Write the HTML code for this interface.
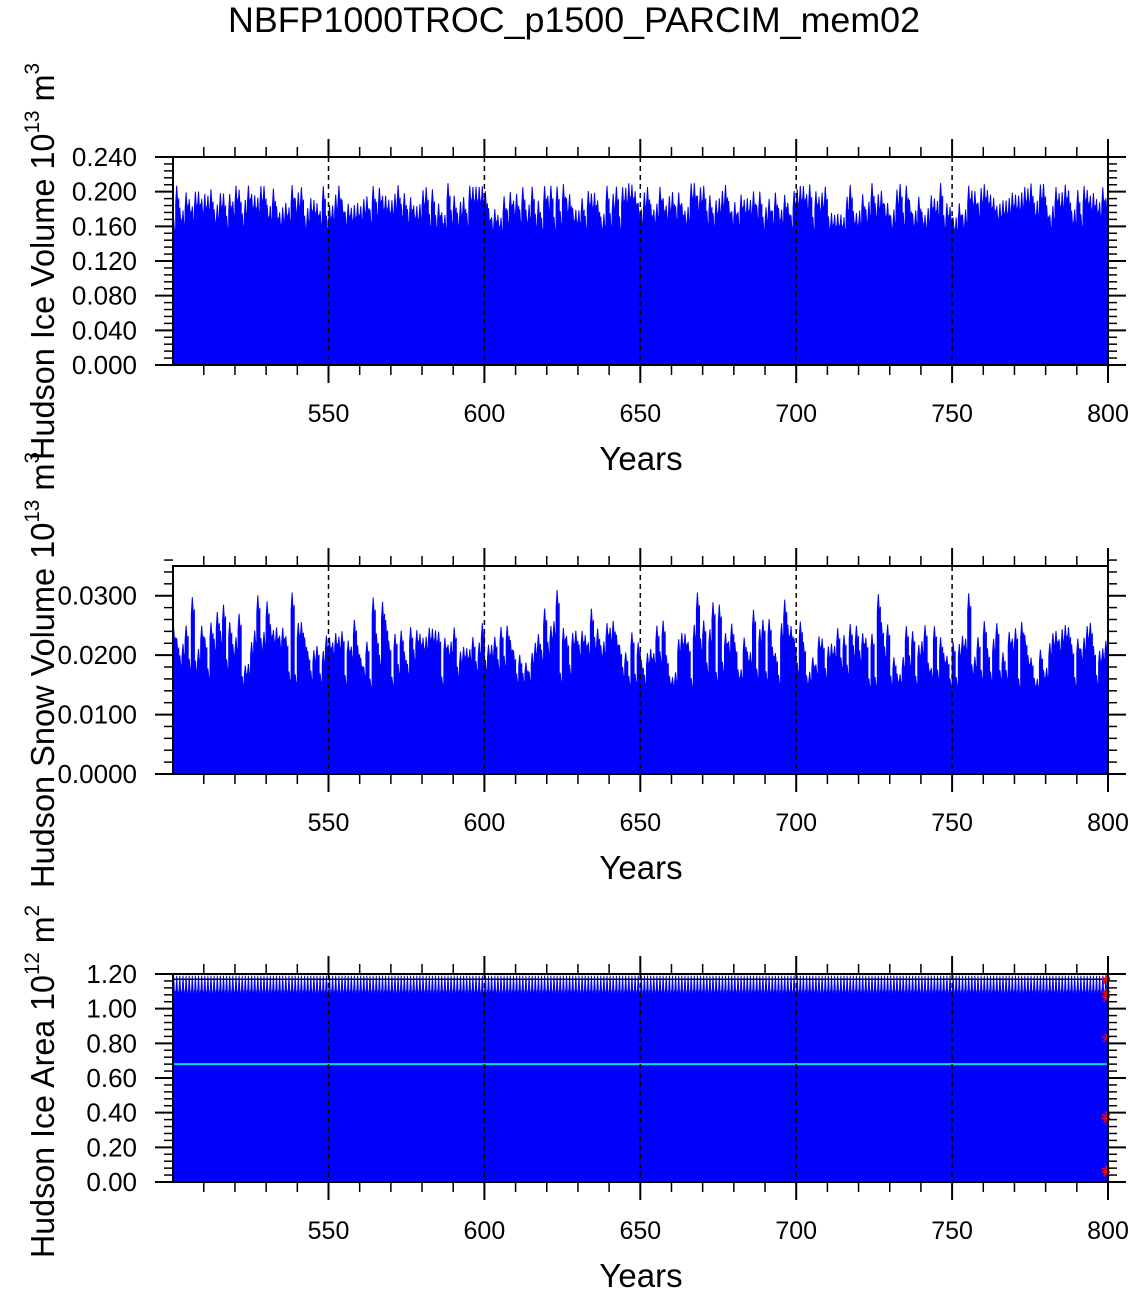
<!DOCTYPE html>
<html><head><meta charset="utf-8"><style>
html,body{margin:0;padding:0;background:#fff;}
svg{display:block;font-family:"Liberation Sans",Arial,sans-serif;}
</style></head><body>
<svg id="s" width="1135" height="1293" viewBox="0 0 1135 1293" xmlns="http://www.w3.org/2000/svg">
<rect width="1135" height="1293" fill="#fff"/>
<text x="228" y="32" font-size="35" textLength="692" lengthAdjust="spacingAndGlyphs">NBFP1000TROC_p1500_PARCIM_mem02</text>
<g id="g"></g>
</svg>
<script>
var NS="http://www.w3.org/2000/svg",g=document.getElementById('g');
function el(t,a,txt){var e=document.createElementNS(NS,t);for(var k in a)e.setAttribute(k,a[k]);if(txt!==undefined)e.textContent=txt;g.appendChild(e);return e;}
var seed=7;function rnd(){seed=(seed*16807)%2147483647;return seed/2147483647;}
var X0=173,X1=1108;function xp(yr){return 172.6+(yr-500)*3.118;}
function panel(top,bot,ymax,majStep,minStep,dec,labelFn,title,t0,t1,kind){
  var h=bot-top;function yp(v){return bot-v/ymax*h;}
  var d="M"+X0+" "+bot;
  for(var yr=500;yr<800;yr++){
    var pk;
    if(kind==1)pk=0.17+rnd()*0.04;else if(kind==2)pk=0.016+rnd()*0.01+(rnd()<0.15?0.005:0);else pk=1.19;
    var x=xp(yr);
    d+=" L"+x.toFixed(1)+" "+yp(pk*0.9).toFixed(1)+" L"+(x+1).toFixed(1)+" "+yp(pk).toFixed(1)+" L"+(x+2.2).toFixed(1)+" "+yp(pk*0.88).toFixed(1)+" L"+(x+3.1).toFixed(1)+" "+yp(pk*0.93).toFixed(1);
  }
  d+=" L"+X1+" "+bot+" Z";
  el('path',{d:d,fill:'#0000ff',stroke:'#0000ff','stroke-width':1});
  if(kind==3){
    el('line',{x1:X0,y1:yp(0.68),x2:X1,y2:yp(0.68),stroke:'#00e0e0','stroke-width':2});
    el('line',{x1:X0,y1:yp(1.17),x2:X1,y2:yp(1.17),stroke:'#000','stroke-width':1.5});
    [1.16,1.15,1.08,1.05,0.82,0.37,0.35,0.06,0.04].forEach(function(v){el('text',{x:1106,y:yp(v)+10,'font-size':24,fill:'#f00','text-anchor':'middle'},'*');});
  }
  [550,600,650,700,750].forEach(function(yr){el('line',{x1:xp(yr),y1:top,x2:xp(yr),y2:bot,stroke:'#000','stroke-width':1.5,'stroke-dasharray':'5,4'});});
  el('rect',{x:X0,y:top,width:X1-X0,height:h,fill:'none',stroke:'#000','stroke-width':2});
  for(var yr=510;yr<=800;yr+=10){var x=xp(yr),maj=yr%50==0;
    el('line',{x1:x,y1:bot,x2:x,y2:bot+(maj?18:10),stroke:'#000','stroke-width':maj?2:1.5});
    el('line',{x1:x,y1:top,x2:x,y2:top-(maj?18:10),stroke:'#000','stroke-width':maj?2:1.5});
    if(maj)el('text',{x:x,y:bot+57,'font-size':25,'text-anchor':'middle'},String(yr));}
  var n=Math.round(ymax/minStep);
  for(var i=0;i<=n;i++){var v=i*minStep,y=yp(v),maj=Math.abs(v/majStep-Math.round(v/majStep))<1e-6;
    el('line',{x1:X0,y1:y,x2:X0-(maj?18:9),y2:y,stroke:'#000','stroke-width':maj?2:1.5});
    el('line',{x1:X1,y1:y,x2:X1+(maj?18:9),y2:y,stroke:'#000','stroke-width':maj?2:1.5});
    if(maj&&labelFn(v))el('text',{x:137,y:y+9,'font-size':26,'text-anchor':'end'},v.toFixed(dec));}
  el('text',{x:641,y:bot+105,'font-size':33,'text-anchor':'middle'},'Years');
  var t=el('text',{transform:'translate(54,'+t0+') rotate(-90)','font-size':33,textLength:(t0-t1),lengthAdjust:'spacingAndGlyphs'});
  t.innerHTML=title;
}
panel(157,365,0.24,0.04,0.008,3,function(){return true;},'Hudson Ice Volume 10<tspan font-size="21" dy="-15">13</tspan><tspan dy="15"> m</tspan><tspan font-size="21" dy="-15">3</tspan>',460,63,1);
panel(566,774,0.035,0.01,0.002,4,function(v){return v<0.031;},'Hudson Snow Volume 10<tspan font-size="21" dy="-15">13</tspan><tspan dy="15"> m</tspan><tspan font-size="21" dy="-15">3</tspan>',888,452,2);
panel(974,1182,1.2,0.2,0.04,2,function(){return true;},'Hudson Ice Area 10<tspan font-size="21" dy="-15">12</tspan><tspan dy="15"> m</tspan><tspan font-size="21" dy="-15">2</tspan>',1258,905,3);
</script>
</body></html>
